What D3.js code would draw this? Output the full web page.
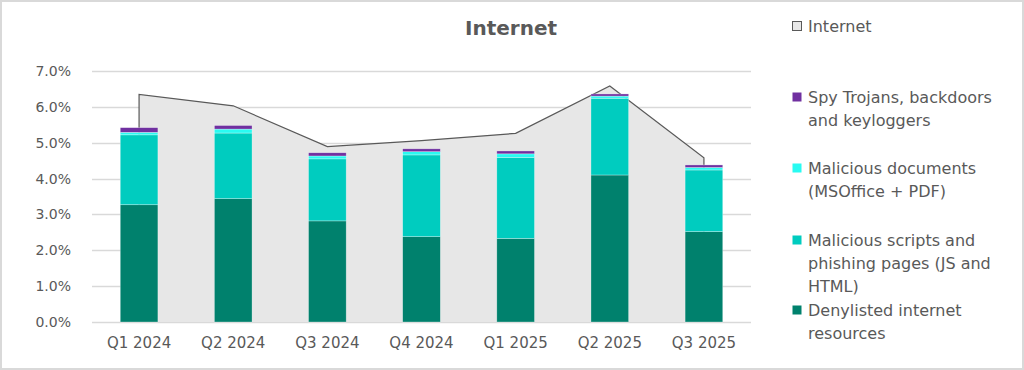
<!DOCTYPE html>
<html>
<head>
<meta charset="utf-8">
<script src="https://cdn.jsdelivr.net/npm/d3@7"></script>
<style>
  body { margin: 0; background: #fff; }
  svg text { font-family: "DejaVu Sans", sans-serif; fill: #595959; }
</style>
</head>
<body>
<div id="chart"></div>
<script>
// Quarters on the x axis
const quarters = ['Q1 2024', 'Q2 2024', 'Q3 2024', 'Q4 2024', 'Q1 2025', 'Q2 2025', 'Q3 2025'];

// Stacked bar series (percent)
const denylisted = [3.27, 3.44, 2.82, 2.38, 2.33, 4.10, 2.52];
const scripts = [1.95, 1.83, 1.73, 2.28, 2.26, 2.14, 1.72];
const documents = [0.07, 0.11, 0.08, 0.09, 0.10, 0.06, 0.07];
const spyTrojans = [0.13, 0.10, 0.09, 0.08, 0.08, 0.06, 0.07];

// Area series (percent)
const internet = [6.35, 6.03, 4.89, 5.06, 5.26, 6.58, 4.58];

const yTicks = [0, 1, 2, 3, 4, 5, 6, 7];

const width = 1024;
const height = 370;
const margin = { top: 71, right: 273, bottom: 48, left: 92 };
const font = '"DejaVu Sans", sans-serif';

const series = [
    { name: 'Denylisted internet resources', values: denylisted, color: '#00816d' },
    { name: 'Malicious scripts and phishing pages (JS and HTML)', values: scripts, color: '#00ccbf' },
    { name: 'Malicious documents (MSOffice + PDF)', values: documents, color: '#29fbf2' },
    { name: 'Spy Trojans, backdoors and keyloggers', values: spyTrojans, color: '#7030a0' }
];

const svg = d3.select('#chart')
    .append('svg')
    .attr('width', width)
    .attr('height', height);

// Outer frame
svg.append('rect')
    .attr('x', 1).attr('y', 1)
    .attr('width', width - 2).attr('height', height - 2)
    .attr('fill', '#fff')
    .attr('stroke', '#d9d9d9')
    .attr('stroke-width', 2);

const x = d3.scaleBand()
    .domain(quarters)
    .range([margin.left, width - margin.right])
    .paddingInner(0.6)
    .paddingOuter(0.3);

const y = d3.scaleLinear()
    .domain([0, 7])
    .range([height - margin.bottom, margin.top]);

// Gridlines
svg.append('g')
    .selectAll('line')
    .data(yTicks)
    .enter()
    .append('line')
    .attr('x1', margin.left)
    .attr('x2', width - margin.right)
    .attr('y1', d => Math.round(y(d)) + 0.5)
    .attr('y2', d => Math.round(y(d)) + 0.5)
    .attr('stroke', '#d9d9d9')
    .attr('stroke-width', 1.4);

// Y axis labels
const yAxis = svg.append('g')
    .attr('transform', `translate(${margin.left - 18},0)`)
    .call(d3.axisLeft(y).tickValues(yTicks).tickFormat(d => d.toFixed(1) + '%').tickSize(0));
yAxis.select('.domain').remove();
yAxis.selectAll('text')
    .attr('font-size', 14)
    .attr('dx', 0)
    .style('font-family', font)
    .style('fill', '#595959');

// X axis labels
const xAxis = svg.append('g')
    .attr('transform', `translate(0,${height - margin.bottom})`)
    .call(d3.axisBottom(x).tickSize(0));
xAxis.select('.domain').remove();
xAxis.selectAll('text')
    .attr('font-size', 15)
    .attr('dy', '1.5em')
    .style('font-family', font)
    .style('fill', '#595959');

// Internet area behind the bars
const cx = d => x(d) + x.bandwidth() / 2;
const area = d3.area()
    .x((d, i) => cx(quarters[i]))
    .y0(y(0))
    .y1(d => y(d));

svg.append('path')
    .datum(internet)
    .attr('d', area)
    .attr('fill', '#e7e7e7');

// Outline: top edge plus the two vertical ends
const outline = [[cx(quarters[0]), y(0)]]
    .concat(internet.map((d, i) => [cx(quarters[i]), y(d)]))
    .concat([[cx(quarters[quarters.length - 1]), y(0)]]);
svg.append('path')
    .attr('d', d3.line()(outline))
    .attr('fill', 'none')
    .attr('stroke', '#595959')
    .attr('stroke-width', 1.2);

// Stacked bars
const stackData = quarters.map((q, i) => {
    const row = { quarter: q };
    series.forEach(s => { row[s.name] = s.values[i]; });
    return row;
});
const stacked = d3.stack().keys(series.map(s => s.name))(stackData);

svg.append('g')
    .selectAll('g')
    .data(stacked)
    .enter()
    .append('g')
    .attr('fill', (d, i) => series[i].color)
    .selectAll('rect')
    .data(d => d)
    .enter()
    .append('rect')
    .attr('x', d => x(d.data.quarter))
    .attr('width', x.bandwidth())
    .attr('y', d => y(d[1]))
    .attr('height', d => y(d[0]) - y(d[1]))
    .attr('stroke', '#ffffff')
    .attr('stroke-opacity', 0.5)
    .attr('stroke-width', 0.6);

// Title
svg.append('text')
    .attr('x', 511)
    .attr('y', 35)
    .attr('text-anchor', 'middle')
    .attr('font-size', 20)
    .attr('font-weight', 'bold')
    .style('font-family', font)
    .style('fill', '#595959')
    .text('Internet');

// Legend
const legendItems = [
    { lines: ['Internet'], color: '#e7e7e7', border: '#595959', y: 26 },
    { lines: ['Spy Trojans, backdoors', 'and keyloggers'], color: '#7030a0', y: 97 },
    { lines: ['Malicious documents', '(MSOffice + PDF)'], color: '#29fbf2', y: 168 },
    { lines: ['Malicious scripts and', 'phishing pages (JS and', 'HTML)'], color: '#00ccbf', y: 240 },
    { lines: ['Denylisted internet', 'resources'], color: '#00816d', y: 310 }
];

const legend = svg.append('g');
const item = legend.selectAll('g')
    .data(legendItems)
    .enter()
    .append('g')
    .attr('transform', d => `translate(792,${d.y})`);

item.append('rect')
    .attr('x', 0.5)
    .attr('y', -4.5)
    .attr('width', 9)
    .attr('height', 9)
    .attr('fill', d => d.color)
    .attr('stroke', d => d.border || 'none')
    .attr('stroke-width', 1);

item.append('text')
    .attr('x', 16)
    .attr('y', 0)
    .attr('font-size', 16)
    .selectAll('tspan')
    .data(d => d.lines)
    .enter()
    .append('tspan')
    .attr('x', 16)
    .attr('y', (d, i) => i * 23)
    .attr('dy', '0.35em')
    .text(d => d);
</script>
</body>
</html>
